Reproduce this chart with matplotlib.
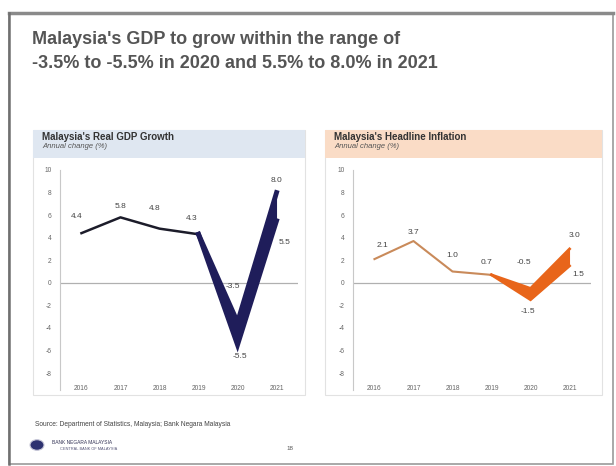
import matplotlib
matplotlib.use("Agg")
import matplotlib.pyplot as plt
from matplotlib.patches import Rectangle, Circle

W, H = 616, 466

years = ["2016", "2017", "2018", "2019", "2020", "2021"]

# real GDP growth, % (2020-2021 forecast range)
gdp_actual = [4.4, 5.8, 4.8, 4.3]
gdp_high = [4.3, -3.5, 8.0]
gdp_low = [4.3, -5.5, 5.5]
gdp_labels = ["4.4", "5.8", "4.8", "4.3", "-3.5", "-5.5", "8.0", "5.5"]

# headline inflation, % (2020-2021 forecast range)
cpi_actual = [2.1, 3.7, 1.0, 0.7]
cpi_high = [0.7, -0.5, 3.0]
cpi_low = [0.7, -1.5, 1.5]
cpi_labels = ["2.1", "3.7", "1.0", "0.7", "-0.5", "-1.5", "3.0", "1.5"]

yticks = [10, 8, 6, 4, 2, 0, -2, -4, -6, -8]


def fx(px):
    return px / W


def fy(py):
    return 1 - py / H


fig = plt.figure(figsize=(6.16, 4.66), dpi=100)
fig.patch.set_facecolor("white")
plt.rcParams["font.family"] = ["Liberation Sans", "DejaVu Sans"]

# slide frame
fig.add_artist(Rectangle((fx(9), fy(464)), fx(604), (464 - 13) / H,
                         transform=fig.transFigure, fill=False,
                         edgecolor="#9a9a9a", lw=1.2))
fig.add_artist(plt.Line2D([fx(9), fx(613)], [fy(13), fy(13)],
                          transform=fig.transFigure, color="#8a8a8a", lw=2.5))
fig.add_artist(plt.Line2D([fx(9), fx(9)], [fy(13), fy(464)],
                          transform=fig.transFigure, color="#707070", lw=1.8))

fig.text(fx(32), fy(39), "Malaysia's GDP to grow within the range of",
         fontsize=13, fontweight="bold", color="#555555", va="center")
fig.text(fx(32), fy(63), "-3.5% to -5.5% in 2020 and 5.5% to 8.0% in 2021",
         fontsize=13, fontweight="bold", color="#555555", va="center")


def panel(x0, x1, band, title, sub):
    fig.add_artist(Rectangle((fx(x0), fy(395)), fx(x1 - x0), (395 - 130) / H,
                             transform=fig.transFigure, facecolor="white",
                             edgecolor="#e2e2e2", lw=0.8, zorder=0))
    fig.add_artist(Rectangle((fx(x0), fy(158)), fx(x1 - x0), 28 / H,
                             transform=fig.transFigure, facecolor=band,
                             edgecolor="none", zorder=0))
    fig.text(fx(x0 + 9), fy(137), title, fontsize=7, fontweight="bold",
             color="#333333", va="center")
    fig.text(fx(x0 + 9), fy(147), sub, fontsize=5.5, style="italic",
             color="#555555", va="center")


def chart(ax, actual, high, low, labels, offsets, line_c, fill_c, lw, edge_lw):
    x = list(range(len(years)))
    ax.fill_between(x[3:], low, high, color=fill_c, lw=0, zorder=2)
    ax.plot(x[:4], actual, color=line_c, lw=lw, zorder=3)
    ax.plot(x[3:], high, color=fill_c, lw=edge_lw, zorder=3,
            solid_joinstyle="miter")
    ax.plot(x[3:], low, color=fill_c, lw=edge_lw, zorder=3,
            solid_joinstyle="miter")
    ax.axhline(0, color="#b0b0b0", lw=0.9, zorder=1)
    pts = list(zip(x[:4], actual)) + [(4, high[1]), (4, low[1]),
                                      (5, high[2]), (5, low[2])]
    for (px, py), lab, off in zip(pts, labels, offsets):
        ax.annotate(lab, (px, py), xytext=off, textcoords="offset pixels",
                    ha="center", va="center", fontsize=6, color="#444444",
                    zorder=4)
    ax.set_xlim(-0.55, 5.55)
    ax.set_ylim(-8, 10)
    ax.set_yticks(yticks)
    ax.set_yticklabels([str(t) for t in yticks])
    ax.set_xticks(x)
    ax.set_xticklabels(years)
    ax.tick_params(axis="both", labelsize=4.8, colors="#666666", length=0)
    ax.tick_params(axis="x", pad=9)
    ax.tick_params(axis="y", pad=6)
    for s in ["top", "right", "bottom"]:
        ax.spines[s].set_visible(False)
    ax.spines["left"].set_color("#c8c8c8")
    ax.spines["left"].set_linewidth(0.8)
    ax.spines["left"].set_bounds(-9.5, 10)
    ax.patch.set_alpha(0)


panel(33, 305, "#dfe7f1", "Malaysia's Real GDP Growth", "Annual change (%)")
panel(325, 602, "#fadcc6", "Malaysia's Headline Inflation", "Annual change (%)")

ax1 = fig.add_axes([fx(60), fy(373), fx(238), (373 - 170) / H])
gdp_off = [(-5, 17), (0, 11), (-5, 20), (-7, 16), (-5, 36), (2, -12),
           (0, 12), (8, -22)]
chart(ax1, gdp_actual, gdp_high, gdp_low, gdp_labels, gdp_off,
      "#1c1c2a", "#1f1d5a", 1.8, 3.5)

ax2 = fig.add_axes([fx(353), fy(373), fx(238), (373 - 170) / H])
cpi_off = [(8, 14), (0, 9), (0, 16), (-5, 12), (-7, 26), (-3, -12),
           (5, 13), (9, -9)]
chart(ax2, cpi_actual, cpi_high, cpi_low, cpi_labels, cpi_off,
      "#c98a5a", "#e8651a", 1.5, 2)

# footer
fig.text(fx(35), fy(424),
         "Source: Department of Statistics, Malaysia; Bank Negara Malaysia",
         fontsize=4.8, color="#444444", va="center")
fig.add_artist(Circle((fx(37), fy(445)), 7 / W, transform=fig.transFigure,
                      facecolor="#2e3270", edgecolor="#c8c8d8", lw=0.8))
fig.text(fx(52), fy(442), "BANK NEGARA MALAYSIA", fontsize=3.5,
         color="#333355", va="center")
fig.text(fx(60), fy(449), "CENTRAL BANK OF MALAYSIA", fontsize=2.8,
         color="#555577", va="center")
fig.text(fx(290), fy(449), "18", fontsize=4.5, color="#555555",
         ha="center", va="center")

fig.savefig("out.png", dpi=100)
